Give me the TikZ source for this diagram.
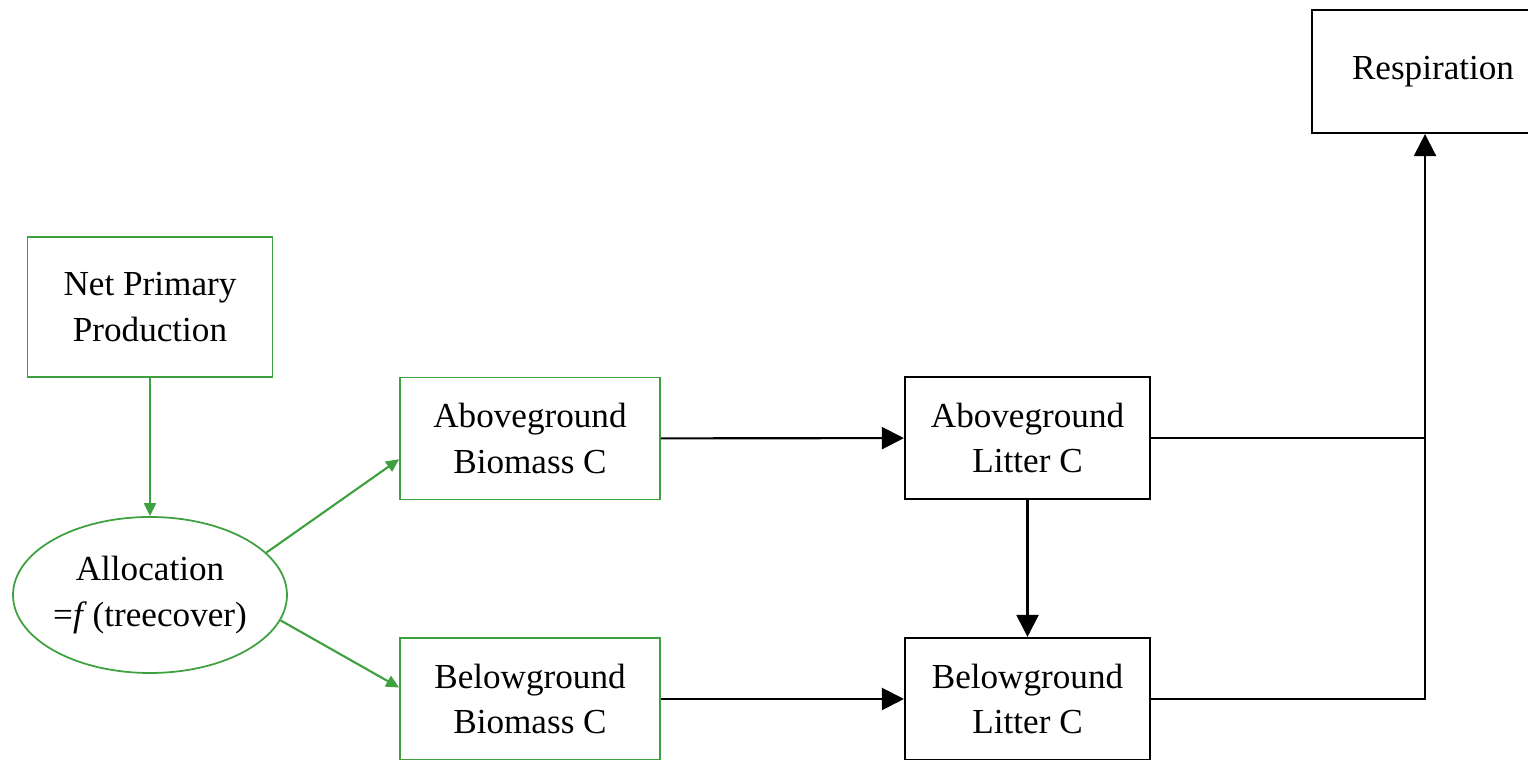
\documentclass[tikz,border=0pt]{standalone}
\usepackage{fontspec}
\setmainfont{Liberation Serif}
\usetikzlibrary{arrows.meta,shapes.geometric}
\definecolor{leafgreen}{RGB}{62,160,62}

\begin{document}
\begin{tikzpicture}[
		font=\fontsize{10}{13}\selectfont,
		pool/.style={draw, line width=0.6pt, align=center, minimum width=2.45cm, minimum height=1.22cm, inner sep=0pt},
		plant/.style={pool, draw=leafgreen, line width=0.5pt},
		flow/.style={line width=0.6pt, -{Triangle[length=0.22cm,width=0.22cm]}},
		gflow/.style={draw=leafgreen, line width=0.6pt, -{Triangle[length=0.13cm,width=0.12cm]}}
	]
		\useasboundingbox (0,0) rectangle (15.28,7.60);
		
		\node[pool, minimum width=2.42cm, minimum height=1.23cm] (resp) at (14.33,6.885) {Respiration};
		\node[plant, minimum height=1.40cm] (npp) at (1.50,4.53) {Net Primary\\Production};
		\node[draw=leafgreen, line width=0.5pt, ellipse, minimum width=2.74cm, minimum height=1.56cm, inner sep=0pt, align=center] (alloc) at (1.50,1.65) {Allocation\\=\textit{f}\,(treecover)};
		
		\node[plant, minimum width=2.60cm] (agb) at (5.30,3.215) {Aboveground\\Biomass C};
		\node[plant, minimum width=2.60cm] (bgb) at (5.30,0.61) {Belowground\\Biomass C};
		\node[pool] (agl) at (10.275,3.22) {Aboveground\\Litter C};
		\node[pool] (bgl) at (10.275,0.61) {Belowground\\Litter C};
		\coordinate (jn) at (14.25,3.22);
		
		\draw[gflow] (npp) -- (alloc);
		\draw[gflow] (alloc.20) -- (agb.189);
		\draw[gflow] (alloc.-11) -- (bgb.175);
		
		\draw[flow] (agb) -- (agl);
		\draw[flow] (bgb) -- (bgl);
		\draw[flow] (agl) -- (bgl);
		\draw[line width=0.6pt] (agl) -- (jn);
		\draw[flow] (bgl.east) -| (jn) -- (jn |- resp.south);
\end{tikzpicture}
\end{document}
